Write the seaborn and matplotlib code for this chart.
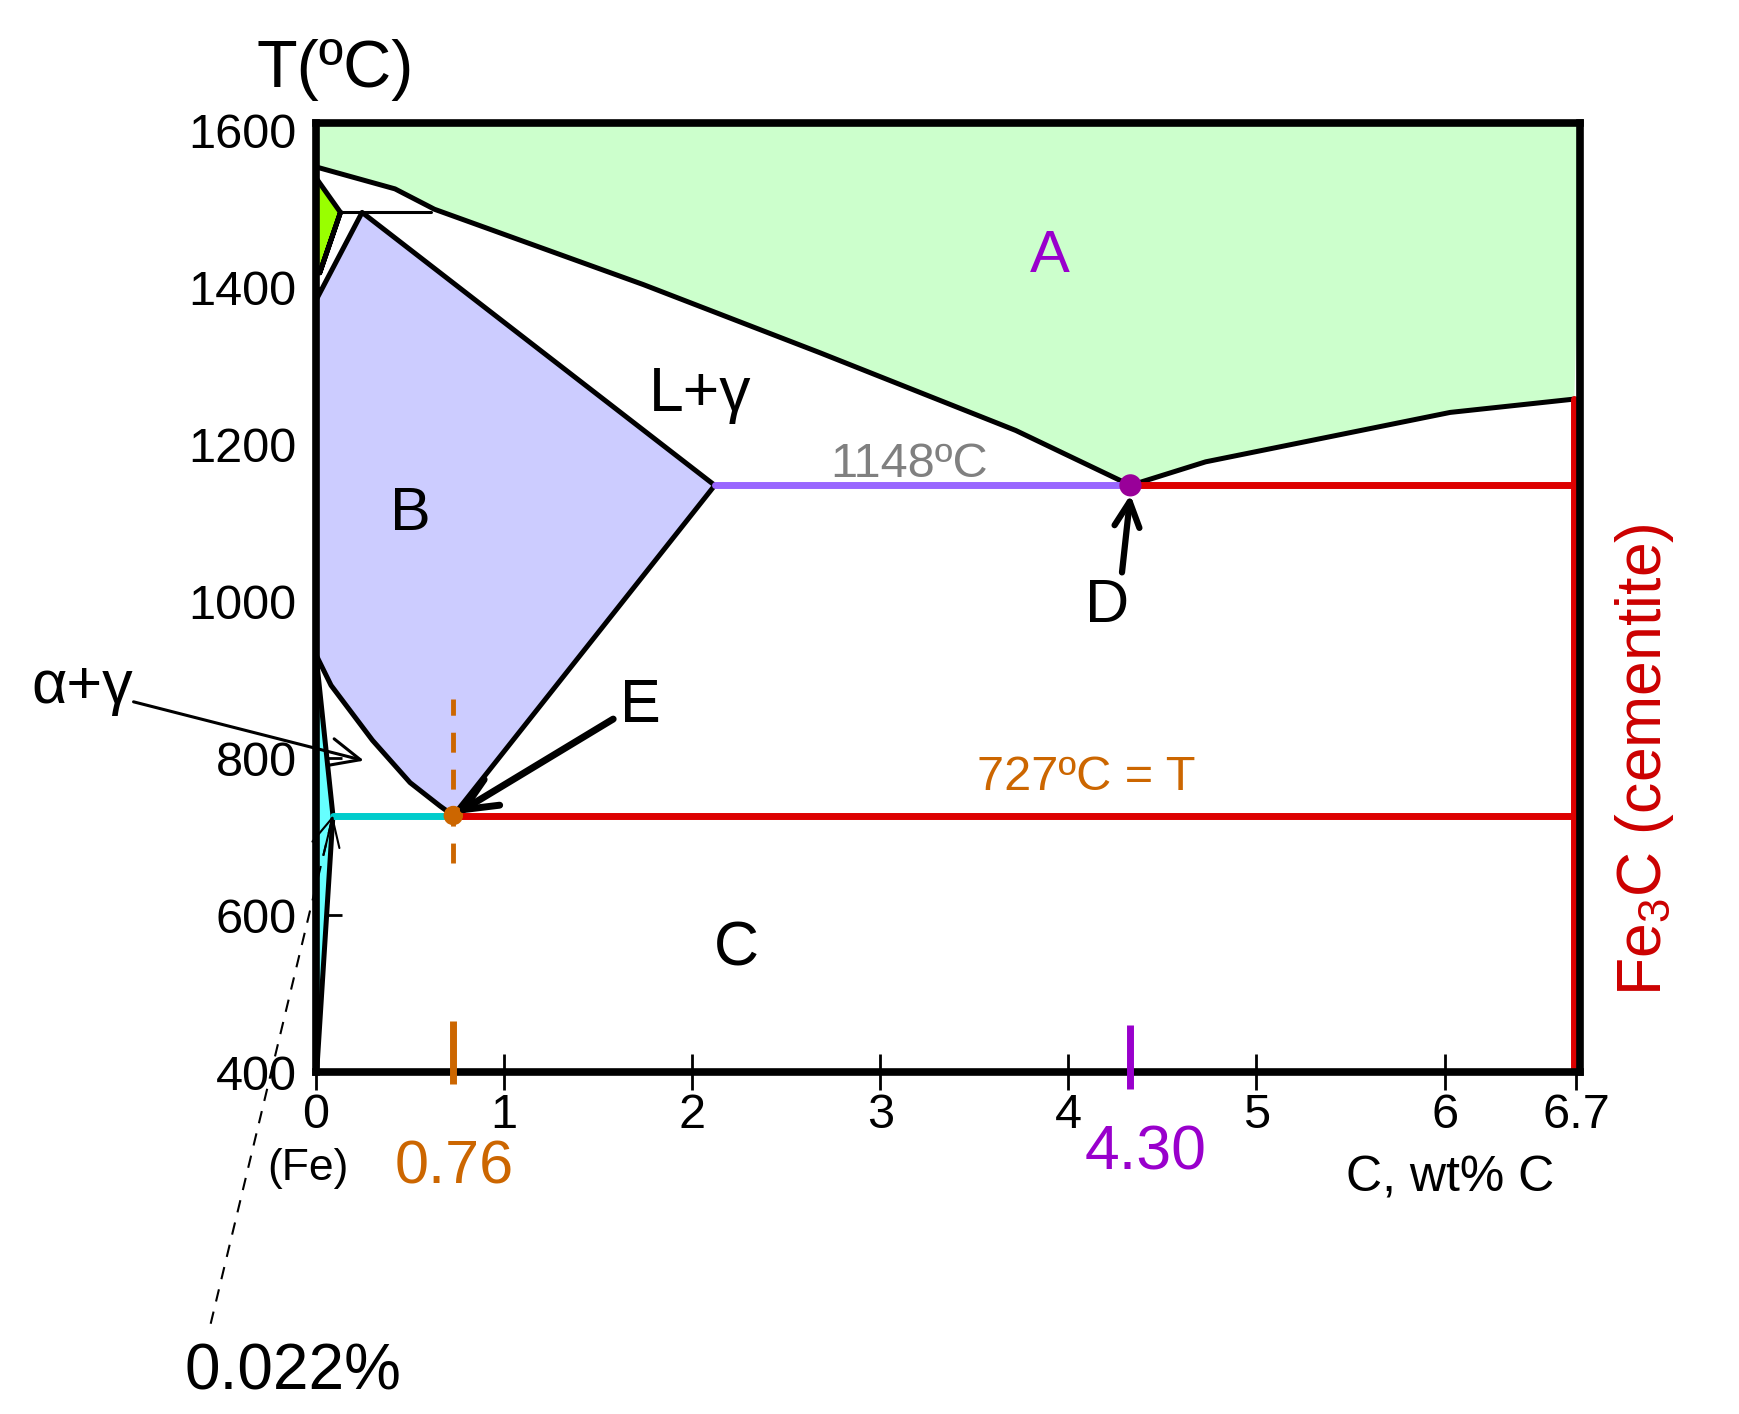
import matplotlib
matplotlib.use("Agg")
import matplotlib.pyplot as plt
import seaborn as sns

# ---------------- data (wt% C, temperature in ºC) ----------------
liquidus_x = [0.0, 0.42, 0.63, 1.74, 2.68, 3.72, 4.33, 4.73, 6.03, 6.69]
liquidus_T = [1554, 1526, 1500, 1404, 1317, 1218, 1148, 1178, 1241, 1258]

delta_x = [0.0, 0.13, 0.02]
delta_T = [1540, 1496, 1419]

gamma_x = [0.0, 0.245, 2.12, 0.73, 0.66, 0.50, 0.30, 0.08, 0.0]
gamma_T = [1384, 1496, 1148, 727, 739, 769, 823, 893, 932]

alpha_x = [0.0, 0.09, 0.005]
alpha_T = [932, 727, 405]

peritectic_x = [0.13, 0.61]
peritectic_T = [1496, 1496]

eutectic_C, eutectic_T = 4.33, 1148
eutectoid_C, eutectoid_T = 0.73, 727
gamma_max_C = 2.12
alpha_max_C = 0.09
cementite_C = 6.69
cementite_top_T = 1258

y_ticks = [400, 600, 800, 1000, 1200, 1400, 1600]
x_ticks = [0, 1, 2, 3, 4, 5, 6, 6.7]
x_ticklabels = ["0", "1", "2", "3", "4", "5", "6", "6.7"]

# ---------------- style ----------------
sns.set_theme(style="white")
plt.rcParams["font.family"] = ["Liberation Sans Narrow", "Liberation Sans", "DejaVu Sans"]
plt.rcParams["mathtext.default"] = "regular"

W, H = 1739, 1414
fig = plt.figure(figsize=(W / 100, H / 100), dpi=100)
ax = fig.add_axes([316 / W, 1 - 1072 / H, 1264 / W, 949 / H])
ax.set_xlim(0, 6.72)
ax.set_ylim(401, 1610)

def fp(x, y):
    return (x / W, 1 - y / H)

LW = 3.6
# ---------- fills ----------
ax.fill(liquidus_x + [cementite_C + 0.05, 0.02], liquidus_T + [1700, 1700],
        color="#ccffcc", zorder=1, lw=0)
ax.fill(delta_x, delta_T, color="#99ff00", zorder=1, lw=0)
ax.fill(gamma_x, gamma_T, color="#ccccff", zorder=1, lw=0)
ax.fill(alpha_x, alpha_T, color="#66ffff", zorder=1, lw=0)

# ---------- boundaries ----------
def bline(xs, ys, color="black", lw=LW, z=3, **kw):
    sns.lineplot(x=xs, y=ys, sort=False, estimator=None, color=color,
                 lw=lw, ax=ax, zorder=z, legend=False, **kw)

bline(liquidus_x, liquidus_T)
bline(delta_x[1:] + [delta_x[1]], delta_T[1:] + [delta_T[1]])
bline([delta_x[0], delta_x[1]], [delta_T[0], delta_T[1]])
bline(gamma_x, gamma_T)
bline(alpha_x[:2], alpha_T[:2])
bline(alpha_x[1:], alpha_T[1:])
bline(peritectic_x, peritectic_T, lw=2.2)

# isotherms
bline([gamma_max_C, eutectic_C], [eutectic_T, eutectic_T], color="#9966ff", lw=5, z=4)
bline([eutectic_C, cementite_C], [eutectic_T, eutectic_T], color="#dd0000", lw=5, z=4)
bline([alpha_max_C, eutectoid_C], [eutectoid_T, eutectoid_T], color="#00cccc", lw=5, z=4)
bline([eutectoid_C, cementite_C], [eutectoid_T, eutectoid_T], color="#dd0000", lw=5, z=4)
bline([cementite_C, cementite_C], [401, cementite_top_T], color="#dd0000", lw=5, z=4)

# eutectoid dashed guide
ax.plot([eutectoid_C, eutectoid_C], [667, 876], color="#cc6600", lw=3.5,
        dashes=(4.1, 3.5), zorder=4)

# points
sns.scatterplot(x=[eutectic_C], y=[eutectic_T], color="#990099", s=16 ** 2,
                ax=ax, zorder=6, edgecolor="none", legend=False)
sns.scatterplot(x=[eutectoid_C], y=[eutectoid_T], color="#cc6600", s=14 ** 2,
                ax=ax, zorder=6, edgecolor="none", legend=False)

# composition marks on the axis
ax.plot([eutectoid_C, eutectoid_C], [385, 465], color="#cc6600", lw=5,
        clip_on=False, zorder=7, solid_capstyle="butt")
ax.plot([eutectic_C, eutectic_C], [378, 460], color="#9900cc", lw=5,
        clip_on=False, zorder=7, solid_capstyle="butt")

# ---------- arrows ----------
ax.annotate("", xy=(0.745, 729), xytext=(1.58, 850),
            arrowprops=dict(arrowstyle="->,head_length=1.0,head_width=0.45",
                            lw=5, color="black", mutation_scale=24,
                            shrinkA=0, shrinkB=0), zorder=8)
ax.annotate("", xy=(eutectic_C, 1136), xytext=(4.285, 1037),
            arrowprops=dict(arrowstyle="->,head_length=0.9,head_width=0.45",
                            lw=4.5, color="black", mutation_scale=20,
                            shrinkA=0, shrinkB=0), zorder=8)
ax.annotate("", xy=(0.255, 797), xytext=(-0.97, 872), annotation_clip=False,
            arrowprops=dict(arrowstyle="->,head_length=1.0,head_width=0.45",
                            lw=2.2, color="black", mutation_scale=22,
                            shrinkA=0, shrinkB=0), zorder=8)
ax.plot([-0.56, 0.09], [79, 727], color="black", lw=1.5, ls=(0, (6, 5)),
        clip_on=False, zorder=8)
ax.annotate("", xy=(0.09, 727), xytext=(0.04, 677), annotation_clip=False,
            arrowprops=dict(arrowstyle="->,head_length=1.0,head_width=0.5",
                            lw=1.5, color="black", mutation_scale=20,
                            shrinkA=0, shrinkB=0), zorder=8)

# ---------- axes styling ----------
for s in ax.spines.values():
    s.set_linewidth(5.5)
    s.set_color("black")
    s.set_zorder(5)
ax.set_yticks(y_ticks)
ax.set_xticks(x_ticks)
ax.set_xticklabels(x_ticklabels)
ax.tick_params(axis="y", direction="in", length=19, width=2, labelsize=35,
               pad=14, colors="black", left=True)
ax.tick_params(axis="x", direction="inout", length=26, width=2, labelsize=35,
               pad=2, colors="black", bottom=True)
ax.grid(False)

# ---------- texts ----------
def ftext(x, y, s, size, color="black", ha="center", va="baseline", **kw):
    fig.text(*fp(x, y), s, fontsize=size, color=color, ha=ha, va=va, **kw)

ftext(335, 87, "T(ºC)", 48)
ftext(1050, 272, "A", 43, color="#9900cc")
ftext(700, 411, "L+γ", 45)
ftext(410, 530, "B", 44)
ftext(909, 477, "1148ºC", 35, color="#808080")
ftext(1107, 622, "D", 44)
ftext(640, 722, "E", 44)
ftext(82, 703, "α+γ", 44)
ftext(1086, 790, "727ºC = T", 35, color="#cc6600")
ftext(736, 966, "C", 45)
ftext(1645, 760, "Fe$_3$C (cementite)", 45, color="#cc0000", rotation=90,
      va="center")
ftext(454, 1183, "0.76", 44, color="#cc6600")
ftext(1146, 1169, "4.30", 45, color="#9900cc")
ftext(308, 1180, "(Fe)", 32)
ftext(1450, 1192, "C, wt% C", 36)
ftext(293, 1390, "0.022%", 46)

fig.savefig("out.png", dpi=100)
